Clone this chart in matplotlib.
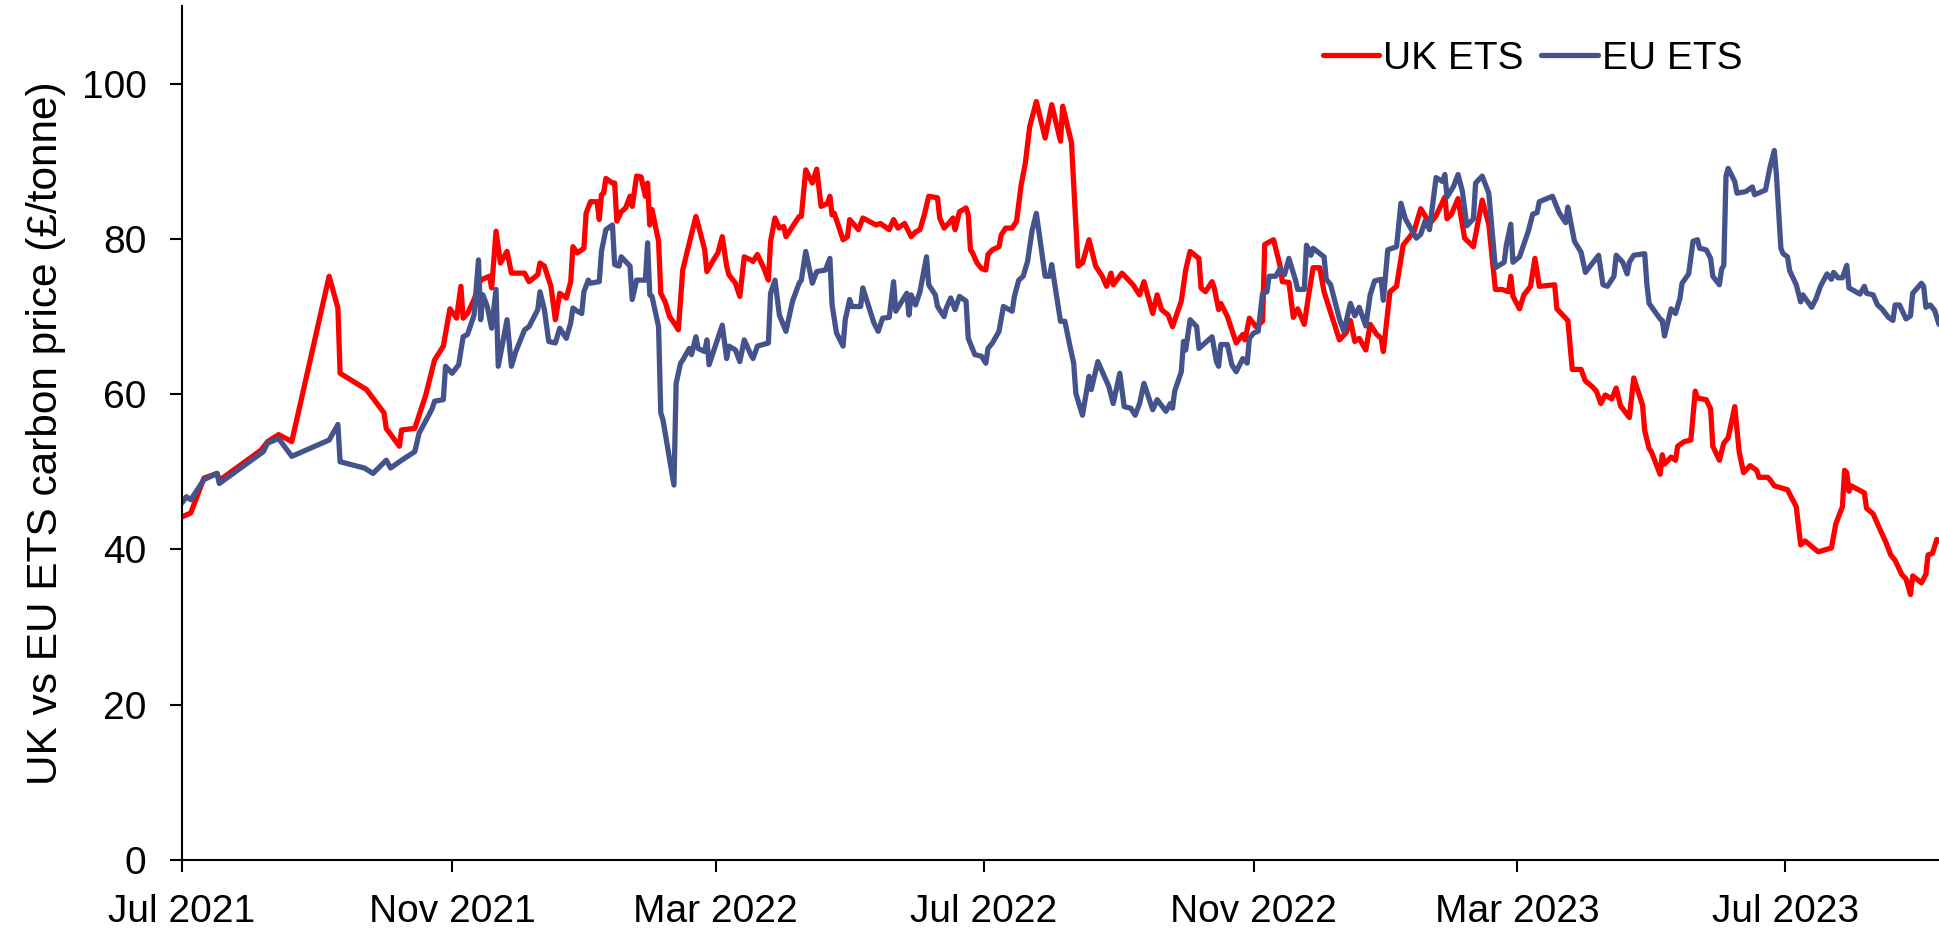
import pandas as pd
import matplotlib
matplotlib.use('Agg')
import matplotlib.pyplot as plt
import matplotlib.dates as mdates

plt.rcParams['font.family'] = ['Liberation Sans', 'DejaVu Sans']

# UK ETS carbon price (GBP/tonne)
uk_dates = [
    "2021-07-01", "2021-07-05", "2021-07-11", "2021-07-17", "2021-07-18", "2021-08-06", "2021-08-09", "2021-08-14", "2021-08-20", "2021-09-06",
    "2021-09-10", "2021-09-11", "2021-09-23", "2021-10-01", "2021-10-02", "2021-10-08", "2021-10-09", "2021-10-15", "2021-10-20", "2021-10-24",
    "2021-10-28", "2021-10-31", "2021-11-03", "2021-11-05", "2021-11-06", "2021-11-08", "2021-11-11", "2021-11-14", "2021-11-18", "2021-11-19",
    "2021-11-21", "2021-11-23", "2021-11-26", "2021-11-28", "2021-12-04", "2021-12-06", "2021-12-10", "2021-12-11", "2021-12-13", "2021-12-16",
    "2021-12-18", "2021-12-20", "2021-12-23", "2021-12-25", "2021-12-26", "2021-12-28", "2021-12-31", "2022-01-01", "2022-01-03", "2022-01-06",
    "2022-01-07", "2022-01-08", "2022-01-09", "2022-01-10", "2022-01-13", "2022-01-14", "2022-01-15", "2022-01-17", "2022-01-19", "2022-01-21",
    "2022-01-22", "2022-01-24", "2022-01-26", "2022-01-28", "2022-01-29", "2022-01-30", "2022-01-31", "2022-02-03", "2022-02-04", "2022-02-06",
    "2022-02-08", "2022-02-10", "2022-02-12", "2022-02-14", "2022-02-17", "2022-02-20", "2022-02-22", "2022-02-24", "2022-02-25", "2022-02-28",
    "2022-03-02", "2022-03-04", "2022-03-06", "2022-03-07", "2022-03-10", "2022-03-12", "2022-03-14", "2022-03-17", "2022-03-18", "2022-03-20",
    "2022-03-23", "2022-03-25", "2022-03-26", "2022-03-28", "2022-03-30", "2022-04-01", "2022-04-02", "2022-04-05", "2022-04-08", "2022-04-09",
    "2022-04-11", "2022-04-14", "2022-04-16", "2022-04-18", "2022-04-21", "2022-04-22", "2022-04-23", "2022-04-24", "2022-04-28", "2022-04-30",
    "2022-05-01", "2022-05-05", "2022-05-07", "2022-05-13", "2022-05-15", "2022-05-19", "2022-05-21", "2022-05-23", "2022-05-26", "2022-05-29",
    "2022-05-31", "2022-06-02", "2022-06-04", "2022-06-06", "2022-06-10", "2022-06-11", "2022-06-13", "2022-06-16", "2022-06-17", "2022-06-18",
    "2022-06-20", "2022-06-23", "2022-06-24", "2022-06-25", "2022-06-26", "2022-06-28", "2022-06-30", "2022-07-02", "2022-07-03", "2022-07-05",
    "2022-07-08", "2022-07-09", "2022-07-11", "2022-07-14", "2022-07-16", "2022-07-18", "2022-07-20", "2022-07-22", "2022-07-25", "2022-07-29",
    "2022-08-01", "2022-08-05", "2022-08-06", "2022-08-10", "2022-08-13", "2022-08-15", "2022-08-18", "2022-08-21", "2022-08-24", "2022-08-26",
    "2022-08-28", "2022-08-29", "2022-09-02", "2022-09-04", "2022-09-07", "2022-09-10", "2022-09-12", "2022-09-16", "2022-09-18", "2022-09-20",
    "2022-09-23", "2022-09-25", "2022-09-29", "2022-10-01", "2022-10-03", "2022-10-07", "2022-10-08", "2022-10-10", "2022-10-13", "2022-10-14",
    "2022-10-16", "2022-10-17", "2022-10-20", "2022-10-24", "2022-10-27", "2022-10-28", "2022-10-30", "2022-11-02", "2022-11-05", "2022-11-06",
    "2022-11-10", "2022-11-13", "2022-11-14", "2022-11-17", "2022-11-19", "2022-11-21", "2022-11-24", "2022-11-26", "2022-11-28", "2022-12-01",
    "2022-12-03", "2022-12-04", "2022-12-10", "2022-12-13", "2022-12-15", "2022-12-17", "2022-12-19", "2022-12-22", "2022-12-24", "2022-12-27",
    "2022-12-29", "2022-12-30", "2023-01-02", "2023-01-05", "2023-01-08", "2023-01-13", "2023-01-16", "2023-01-18", "2023-01-20", "2023-01-23",
    "2023-01-27", "2023-01-28", "2023-01-30", "2023-02-02", "2023-02-05", "2023-02-09", "2023-02-13", "2023-02-16", "2023-02-19", "2023-02-22",
    "2023-02-25", "2023-02-26", "2023-02-27", "2023-03-02", "2023-03-04", "2023-03-07", "2023-03-09", "2023-03-11", "2023-03-18", "2023-03-19",
    "2023-03-24", "2023-03-26", "2023-03-30", "2023-04-01", "2023-04-04", "2023-04-06", "2023-04-08", "2023-04-10", "2023-04-13", "2023-04-15",
    "2023-04-17", "2023-04-21", "2023-04-23", "2023-04-27", "2023-04-28", "2023-04-30", "2023-05-01", "2023-05-05", "2023-05-06", "2023-05-07",
    "2023-05-10", "2023-05-12", "2023-05-13", "2023-05-16", "2023-05-19", "2023-05-21", "2023-05-22", "2023-05-26", "2023-05-28", "2023-05-29",
    "2023-06-01", "2023-06-03", "2023-06-05", "2023-06-08", "2023-06-10", "2023-06-12", "2023-06-15", "2023-06-18", "2023-06-19", "2023-06-23",
    "2023-06-24", "2023-06-26", "2023-07-02", "2023-07-04", "2023-07-06", "2023-07-08", "2023-07-10", "2023-07-13", "2023-07-16", "2023-07-22",
    "2023-07-24", "2023-07-27", "2023-07-28", "2023-07-29", "2023-07-30", "2023-07-31", "2023-08-06", "2023-08-07", "2023-08-10", "2023-08-12",
    "2023-08-16", "2023-08-18", "2023-08-20", "2023-08-23", "2023-08-25", "2023-08-27", "2023-08-28", "2023-09-01", "2023-09-03", "2023-09-04",
    "2023-09-06", "2023-09-08", "2023-09-09",
]
uk_price = [
    44.2, 44.7, 49.2, 49.8, 48.9, 52.8, 53.9, 54.8, 53.9, 75.2,
    71.1, 62.7, 60.6, 57.6, 55.6, 53.3, 55.4, 55.6, 59.9, 64.4,
    66.2, 71.0, 69.8, 73.9, 69.8, 70.4, 72.2, 74.7, 75.2, 73.7,
    81.0, 76.9, 78.4, 75.6, 75.6, 74.5, 75.4, 76.9, 76.5, 73.9,
    69.6, 73.0, 72.4, 74.5, 79.0, 78.2, 78.8, 83.3, 84.8, 84.8,
    82.5, 85.7, 85.9, 87.8, 87.2, 87.2, 82.3, 83.5, 84.0, 85.5,
    84.2, 88.1, 88.0, 85.5, 87.2, 81.8, 83.8, 79.7, 73.0, 71.9,
    70.0, 69.2, 68.3, 76.0, 79.5, 82.9, 80.8, 78.6, 75.8, 77.3,
    78.2, 80.3, 76.5, 75.4, 74.3, 72.6, 77.7, 77.3, 77.1, 78.0,
    76.2, 74.7, 79.7, 82.7, 81.4, 81.6, 80.3, 81.6, 82.9, 82.9,
    88.9, 87.2, 89.0, 84.2, 84.6, 85.5, 83.1, 83.3, 79.9, 80.3,
    82.5, 81.2, 82.7, 81.8, 82.0, 81.2, 82.5, 81.4, 82.0, 80.3,
    80.9, 81.2, 83.1, 85.5, 85.3, 82.7, 81.4, 82.3, 82.7, 81.2,
    83.5, 84.0, 83.1, 78.6, 78.2, 76.9, 76.2, 76.0, 78.0, 78.6,
    79.0, 80.5, 81.4, 81.4, 82.3, 86.8, 89.8, 94.5, 97.7, 93.0,
    97.3, 92.6, 97.1, 92.4, 76.5, 76.9, 79.9, 76.5, 75.2, 73.9,
    75.6, 74.1, 75.6, 75.0, 74.1, 72.8, 74.5, 70.4, 72.8, 70.9,
    70.2, 68.7, 72.0, 76.0, 78.4, 77.5, 73.7, 73.2, 74.5, 73.7,
    70.9, 71.7, 70.0, 66.6, 67.7, 67.0, 69.8, 68.7, 69.4, 79.3,
    79.9, 76.5, 74.5, 74.4, 69.9, 71.0, 69.0, 72.8, 76.3, 76.3,
    73.2, 72.3, 67.0, 67.9, 69.5, 66.8, 67.2, 65.7, 69.0, 67.7,
    67.2, 65.5, 73.2, 73.9, 79.2, 81.0, 83.9, 83.0, 81.9, 83.0,
    85.4, 82.6, 83.2, 85.2, 80.1, 79.0, 85.0, 81.9, 73.5, 73.5,
    73.2, 75.2, 72.6, 71.0, 72.8, 73.9, 77.5, 73.9, 74.1, 71.0,
    69.5, 63.2, 63.2, 61.7, 61.0, 60.4, 58.8, 59.9, 59.4, 60.8,
    58.5, 57.0, 62.1, 58.6, 55.3, 53.0, 52.6, 49.7, 52.2, 51.0,
    51.9, 51.5, 53.3, 53.9, 54.1, 60.4, 59.5, 59.3, 58.1, 53.3,
    51.5, 53.7, 54.4, 58.4, 52.6, 49.9, 50.8, 50.2, 49.3, 49.3,
    49.0, 48.2, 47.7, 46.6, 45.5, 40.6, 41.1, 40.4, 39.7, 40.2,
    43.3, 45.5, 50.2, 49.9, 47.5, 48.2, 47.3, 45.3, 44.6, 43.3,
    40.8, 39.3, 38.6, 36.8, 36.2, 34.2, 36.6, 35.7, 36.8, 39.3,
    39.5, 41.3, 41.1,
]

# EU ETS carbon price converted to GBP/tonne
eu_dates = [
    "2021-07-01", "2021-07-03", "2021-07-05", "2021-07-11", "2021-07-17", "2021-07-18", "2021-08-07", "2021-08-09", "2021-08-14", "2021-08-20",
    "2021-09-06", "2021-09-10", "2021-09-11", "2021-09-22", "2021-09-26", "2021-10-02", "2021-10-04", "2021-10-09", "2021-10-15", "2021-10-17",
    "2021-10-21", "2021-10-23", "2021-10-24", "2021-10-28", "2021-10-29", "2021-11-01", "2021-11-04", "2021-11-06", "2021-11-08", "2021-11-11",
    "2021-11-13", "2021-11-14", "2021-11-15", "2021-11-17", "2021-11-19", "2021-11-21", "2021-11-22", "2021-11-26", "2021-11-28", "2021-11-30",
    "2021-12-04", "2021-12-06", "2021-12-10", "2021-12-11", "2021-12-13", "2021-12-15", "2021-12-18", "2021-12-20", "2021-12-23", "2021-12-25",
    "2021-12-26", "2021-12-28", "2021-12-30", "2021-12-31", "2022-01-02", "2022-01-03", "2022-01-07", "2022-01-08", "2022-01-10", "2022-01-13",
    "2022-01-14", "2022-01-16", "2022-01-17", "2022-01-21", "2022-01-22", "2022-01-24", "2022-01-28", "2022-01-29", "2022-01-30", "2022-01-31",
    "2022-02-03", "2022-02-04", "2022-02-05", "2022-02-10", "2022-02-11", "2022-02-13", "2022-02-14", "2022-02-17", "2022-02-18", "2022-02-20",
    "2022-02-21", "2022-02-24", "2022-02-25", "2022-02-26", "2022-02-28", "2022-03-02", "2022-03-04", "2022-03-06", "2022-03-07", "2022-03-10",
    "2022-03-12", "2022-03-14", "2022-03-17", "2022-03-18", "2022-03-20", "2022-03-25", "2022-03-26", "2022-03-28", "2022-03-30", "2022-04-02",
    "2022-04-05", "2022-04-08", "2022-04-09", "2022-04-11", "2022-04-14", "2022-04-16", "2022-04-20", "2022-04-22", "2022-04-23", "2022-04-25",
    "2022-04-28", "2022-04-29", "2022-05-01", "2022-05-02", "2022-05-06", "2022-05-07", "2022-05-12", "2022-05-14", "2022-05-16", "2022-05-19",
    "2022-05-21", "2022-05-22", "2022-05-27", "2022-05-28", "2022-05-29", "2022-05-31", "2022-06-02", "2022-06-05", "2022-06-06", "2022-06-09",
    "2022-06-10", "2022-06-13", "2022-06-14", "2022-06-16", "2022-06-18", "2022-06-20", "2022-06-23", "2022-06-24", "2022-06-27", "2022-06-30",
    "2022-07-02", "2022-07-03", "2022-07-05", "2022-07-08", "2022-07-10", "2022-07-14", "2022-07-15", "2022-07-17", "2022-07-19", "2022-07-21",
    "2022-07-23", "2022-07-25", "2022-07-29", "2022-07-31", "2022-08-01", "2022-08-05", "2022-08-07", "2022-08-09", "2022-08-11", "2022-08-12",
    "2022-08-15", "2022-08-18", "2022-08-19", "2022-08-22", "2022-08-25", "2022-08-27", "2022-08-29", "2022-09-01", "2022-09-03", "2022-09-06",
    "2022-09-08", "2022-09-10", "2022-09-12", "2022-09-16", "2022-09-18", "2022-09-22", "2022-09-24", "2022-09-25", "2022-09-26", "2022-09-29",
    "2022-09-30", "2022-10-01", "2022-10-03", "2022-10-06", "2022-10-07", "2022-10-09", "2022-10-13", "2022-10-15", "2022-10-16", "2022-10-17",
    "2022-10-20", "2022-10-22", "2022-10-24", "2022-10-27", "2022-10-29", "2022-10-30", "2022-11-01", "2022-11-03", "2022-11-05", "2022-11-07",
    "2022-11-08", "2022-11-11", "2022-11-13", "2022-11-15", "2022-11-17", "2022-11-20", "2022-11-21", "2022-11-24", "2022-11-25", "2022-11-27",
    "2022-11-28", "2022-12-03", "2022-12-04", "2022-12-06", "2022-12-10", "2022-12-12", "2022-12-15", "2022-12-17", "2022-12-19", "2022-12-22",
    "2022-12-24", "2022-12-26", "2022-12-29", "2022-12-30", "2023-01-01", "2023-01-05", "2023-01-07", "2023-01-09", "2023-01-14", "2023-01-16",
    "2023-01-18", "2023-01-20", "2023-01-22", "2023-01-23", "2023-01-26", "2023-01-27", "2023-01-28", "2023-01-31", "2023-02-02", "2023-02-04",
    "2023-02-06", "2023-02-09", "2023-02-10", "2023-02-13", "2023-02-16", "2023-02-19", "2023-02-23", "2023-02-24", "2023-02-26", "2023-02-27",
    "2023-03-02", "2023-03-06", "2023-03-08", "2023-03-10", "2023-03-11", "2023-03-17", "2023-03-20", "2023-03-23", "2023-03-24", "2023-03-27",
    "2023-03-30", "2023-04-01", "2023-04-04", "2023-04-07", "2023-04-09", "2023-04-11", "2023-04-14", "2023-04-15", "2023-04-18", "2023-04-20",
    "2023-04-21", "2023-04-23", "2023-04-28", "2023-04-29", "2023-04-30", "2023-05-05", "2023-05-06", "2023-05-07", "2023-05-10", "2023-05-12",
    "2023-05-14", "2023-05-15", "2023-05-18", "2023-05-20", "2023-05-22", "2023-05-23", "2023-05-26", "2023-05-28", "2023-05-29", "2023-06-01",
    "2023-06-02", "2023-06-03", "2023-06-04", "2023-06-05", "2023-06-08", "2023-06-09", "2023-06-13", "2023-06-16", "2023-06-17", "2023-06-22",
    "2023-06-24", "2023-06-26", "2023-06-27", "2023-06-29", "2023-06-30", "2023-07-02", "2023-07-03", "2023-07-06", "2023-07-08", "2023-07-09",
    "2023-07-13", "2023-07-15", "2023-07-17", "2023-07-20", "2023-07-22", "2023-07-23", "2023-07-25", "2023-07-27", "2023-07-29", "2023-07-30",
    "2023-08-04", "2023-08-06", "2023-08-07", "2023-08-10", "2023-08-12", "2023-08-14", "2023-08-17", "2023-08-19", "2023-08-20", "2023-08-22",
    "2023-08-25", "2023-08-27", "2023-08-28", "2023-09-01", "2023-09-02", "2023-09-03", "2023-09-05", "2023-09-07", "2023-09-09",
]
eu_price = [
    46.0, 46.8, 46.4, 49.0, 49.8, 48.5, 52.6, 53.7, 54.3, 52.0,
    54.1, 56.1, 51.3, 50.5, 49.8, 51.5, 50.5, 51.5, 52.6, 55.0,
    57.1, 58.2, 59.1, 59.3, 63.6, 62.7, 63.8, 67.4, 67.7, 70.2,
    77.3, 69.6, 72.8, 71.3, 68.5, 73.5, 63.6, 69.6, 63.6, 65.5,
    68.3, 68.7, 70.9, 73.2, 70.9, 66.8, 66.6, 68.5, 67.2, 69.2,
    71.1, 70.7, 70.4, 73.2, 74.7, 74.3, 74.5, 78.4, 81.2, 81.8,
    76.7, 76.5, 77.7, 76.5, 72.2, 74.7, 74.7, 79.5, 72.8, 72.6,
    68.7, 57.6, 56.7, 48.3, 61.4, 64.0, 64.4, 65.9, 65.1, 67.4,
    65.9, 65.5, 67.0, 63.8, 65.5, 67.2, 68.9, 64.6, 66.2, 65.7,
    64.2, 67.0, 65.1, 64.6, 66.2, 66.6, 73.0, 74.7, 70.2, 68.1,
    72.0, 74.3, 74.7, 78.4, 74.3, 75.8, 76.0, 77.5, 71.5, 67.9,
    66.2, 69.6, 72.2, 71.3, 71.3, 73.7, 69.2, 68.1, 69.8, 69.9,
    74.5, 70.7, 73.0, 70.2, 72.8, 71.5, 73.2, 77.7, 74.1, 72.8,
    71.3, 70.0, 71.1, 72.4, 70.9, 72.6, 72.0, 67.2, 65.1, 64.9,
    64.0, 65.9, 66.6, 68.1, 71.3, 70.7, 72.6, 74.7, 75.2, 77.1,
    81.0, 83.3, 75.2, 75.2, 76.7, 69.4, 69.4, 66.6, 64.0, 60.1,
    57.3, 62.3, 60.6, 64.2, 62.3, 61.0, 58.8, 62.7, 58.4, 58.2,
    57.3, 58.8, 61.4, 58.0, 59.3, 57.8, 58.8, 58.2, 60.4, 62.9,
    66.8, 65.7, 69.6, 68.7, 65.9, 66.4, 67.4, 64.2, 63.6, 66.4,
    66.4, 63.8, 62.9, 64.6, 64.0, 67.2, 67.9, 68.1, 73.0, 73.2,
    75.2, 75.2, 76.2, 75.4, 77.5, 74.7, 73.5, 73.5, 79.2, 77.9,
    78.8, 77.7, 74.8, 74.1, 69.7, 68.1, 71.7, 70.1, 71.2, 68.8,
    72.8, 74.6, 74.8, 72.1, 78.6, 79.0, 84.6, 82.6, 80.1, 80.6,
    82.3, 81.2, 85.7, 87.9, 87.4, 88.3, 85.4, 86.8, 88.3, 86.1,
    81.7, 82.6, 87.2, 88.1, 85.9, 76.3, 77.0, 79.2, 81.9, 77.0,
    77.7, 81.0, 83.2, 83.4, 84.8, 85.5, 83.4, 82.1, 84.1, 79.7,
    78.3, 75.7, 76.8, 77.9, 74.1, 73.9, 75.2, 77.9, 77.0, 75.5,
    77.0, 77.9, 78.1, 74.1, 71.7, 69.7, 69.5, 67.5, 71.0, 70.4,
    72.3, 74.3, 75.5, 79.7, 79.9, 78.8, 78.6, 77.5, 75.2, 74.1,
    76.1, 76.6, 88.1, 89.1, 87.4, 85.9, 86.1, 86.7, 85.7, 86.3,
    89.2, 91.4, 88.1, 78.8, 78.1, 77.7, 75.9, 74.1, 71.9, 72.8,
    71.2, 72.3, 73.9, 75.5, 74.8, 75.7, 75.0, 75.0, 76.6, 73.7,
    72.9, 73.9, 73.0, 72.8, 71.5, 71.0, 69.9, 69.5, 71.5, 71.5,
    69.7, 70.1, 73.0, 74.3, 73.9, 71.2, 71.5, 70.8, 69.0,
]

series_names = ['UK ETS', 'EU ETS']
series_colors = ['#ff0000', '#44538c']
y_ticks = [0, 20, 40, 60, 80, 100]

uk = pd.Series(uk_price, index=pd.to_datetime(uk_dates))
eu = pd.Series(eu_price, index=pd.to_datetime(eu_dates))

fig = plt.figure(figsize=(19.4, 9.34), dpi=100)
ax = fig.add_axes([0.0938, 0.0792, 0.9057, 0.9143])

for s, name, col in zip([uk, eu], series_names, series_colors):
    ax.plot(s.index, s.values, color=col, lw=3.8, label=name,
            solid_joinstyle='round', solid_capstyle='round')

ax.set_xlim(pd.Timestamp('2021-07-01'), pd.Timestamp('2023-09-09'))
ax.set_ylim(0, 110)
ax.set_yticks(y_ticks)
ax.xaxis.set_major_locator(mdates.MonthLocator(bymonth=[3, 7, 11]))
ax.xaxis.set_major_formatter(mdates.DateFormatter('%b %Y'))

for side in ['top', 'right']:
    ax.spines[side].set_visible(False)
for side in ['left', 'bottom']:
    ax.spines[side].set_linewidth(1.5)
    ax.spines[side].set_color('black')

ax.tick_params(axis='both', length=8.6, width=1.5, labelsize=28, direction='out')
ax.tick_params(axis='x', pad=16)
ax.tick_params(axis='y', pad=17)

ax.set_ylabel('UK vs EU ETS carbon price (£/tonne)', fontsize=30.5)
ax.yaxis.set_label_coords(-0.066, 0.5)

ax.legend(loc='center left', bbox_to_anchor=(0.682, 0.937), bbox_transform=fig.transFigure,
          ncol=2, frameon=False, borderpad=0, borderaxespad=0, fontsize=28,
          handlelength=1.45, handletextpad=0.1, columnspacing=0.45)

plt.savefig('out.png', dpi=100)
